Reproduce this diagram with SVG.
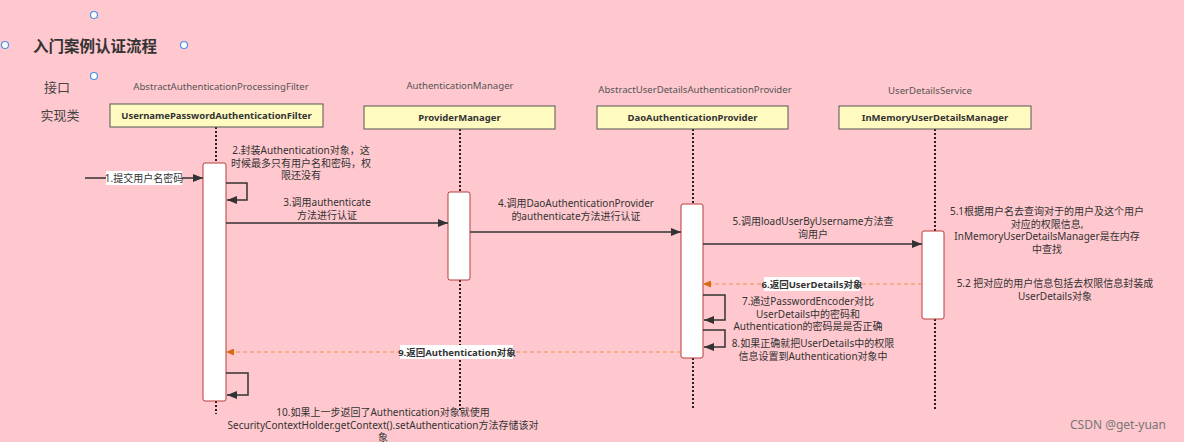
<svg xmlns="http://www.w3.org/2000/svg" width="1184" height="442" viewBox="0 0 1184 442">
<defs>
<style>
.bg{fill:#FFC8CE}
.t{font-family:"Noto Sans","Noto Sans CJK SC",sans-serif;fill:#333;font-size:10px;text-anchor:middle}
.top{font-family:"Noto Sans",sans-serif;fill:#555;font-size:9.6px;text-anchor:middle}
.box{fill:#FFFAC0;stroke:#555;stroke-width:1}
.bl{font-family:"Noto Sans","Noto Sans CJK SC",sans-serif;font-weight:bold;fill:#333;font-size:9.5px;text-anchor:middle}
.life{stroke:#222;stroke-width:2;stroke-dasharray:2 2;fill:none}
.act{fill:#fff;stroke:#B83A3A;stroke-width:1}
.msg{stroke:#333;stroke-width:1.5;fill:none;marker-end:url(#ah)}
.ret{stroke:#E8914A;stroke-width:1.2;stroke-dasharray:4 3;fill:none;marker-end:url(#ao)}
.lbg{fill:#fff}
.h{fill:#fff;stroke:#4A90E2;stroke-width:1.2}
</style>
<marker id="ah" markerWidth="10" markerHeight="8" refX="10" refY="4" orient="auto" markerUnits="userSpaceOnUse"><path d="M0,0 L10,4 L0,8 z" fill="#333"/></marker>
<marker id="ao" markerWidth="8" markerHeight="7" refX="8" refY="3.5" orient="auto" markerUnits="userSpaceOnUse"><path d="M0,0 L8,3.5 L0,7 z" fill="#D86A10"/></marker>
</defs>
<rect class="bg" x="0" y="0" width="1184" height="442"/>

<g id="title">
<text x="33" y="52" style="font-family:'Noto Sans CJK SC',sans-serif;font-weight:bold;font-size:15.5px;fill:#333">入门案例认证流程</text>
<circle class="h" cx="94" cy="15" r="3.5"/>
<circle class="h" cx="5" cy="45" r="3.5"/>
<circle class="h" cx="184" cy="45" r="3.5"/>
<circle class="h" cx="94" cy="76" r="3.5"/>
</g>
<g id="row-labels">
<text x="57" y="92" style="font-family:'Noto Sans CJK SC',sans-serif;font-size:13px;fill:#444;text-anchor:middle">接口</text>
<text x="60" y="120" style="font-family:'Noto Sans CJK SC',sans-serif;font-size:13px;fill:#444;text-anchor:middle">实现类</text>
</g>

<g id="lifelines">
<line class="life" x1="216" y1="127" x2="216" y2="163"/>
<line class="life" x1="216" y1="401" x2="216" y2="414"/>
<line class="life" x1="460" y1="129" x2="460" y2="192"/>
<line class="life" x1="460" y1="280" x2="460" y2="410"/>
<line class="life" x1="693" y1="129" x2="693" y2="204"/>
<line class="life" x1="693" y1="358" x2="693" y2="410"/>
<line class="life" x1="935" y1="129" x2="935" y2="231"/>
<line class="life" x1="935" y1="319" x2="935" y2="410"/>
</g>

<g id="node-filter">
<text class="top" x="221" y="90">AbstractAuthenticationProcessingFilter</text>
<rect class="box" x="110" y="104" width="213" height="23"/>
<text class="bl" x="216.5" y="119">UsernamePasswordAuthenticationFilter</text>
<rect class="act" x="203" y="163" width="23" height="238" rx="2"/>
</g>
<g id="node-provider-manager">
<text class="top" x="460" y="89">AuthenticationManager</text>
<rect class="box" x="364" y="106" width="191" height="23"/>
<text class="bl" x="459.5" y="121">ProviderManager</text>
<rect class="act" x="448" y="192" width="22" height="88" rx="2"/>
</g>
<g id="node-dao">
<text class="top" x="695" y="93">AbstractUserDetailsAuthenticationProvider</text>
<rect class="box" x="597" y="106" width="191" height="23"/>
<text class="bl" x="692.5" y="121">DaoAuthenticationProvider</text>
<rect class="act" x="681" y="204" width="22" height="154" rx="2"/>
</g>
<g id="node-inmemory">
<text class="top" x="930" y="94">UserDetailsService</text>
<rect class="box" x="839" y="106" width="192" height="23"/>
<text class="bl" x="935" y="121">InMemoryUserDetailsManager</text>
<rect class="act" x="922" y="231" width="22" height="88" rx="2"/>
</g>

<g id="connectors">
<line class="msg" x1="85" y1="178" x2="203" y2="178"/>
<path class="msg" d="M226,183 H247 V200 H227"/>
<line class="msg" x1="226" y1="223" x2="448" y2="223"/>
<line class="msg" x1="470" y1="232" x2="681" y2="232"/>
<line class="msg" x1="703" y1="244" x2="922" y2="244"/>
<line class="ret" x1="922" y1="284" x2="703" y2="284"/>
<path class="msg" d="M703,295 H725 V320 H704"/>
<path class="msg" d="M703,330 H725 V347 H704"/>
<line class="ret" x1="681" y1="352" x2="226" y2="352"/>
<path class="msg" d="M226,373 H248 V395 H227"/>
</g>

<g id="labels">
<rect class="lbg" x="106" y="171" width="76" height="14"/>
<text class="t" x="144" y="182">1.提交用户名密码</text>
<text class="t" x="301" y="154">2.封装Authentication对象，这</text>
<text class="t" x="301" y="166.5">时候最多只有用户名和密码，权</text>
<text class="t" x="301" y="179">限还没有</text>
<text class="t" x="327" y="206">3.调用authenticate</text>
<text class="t" x="327" y="218.5">方法进行认证</text>
<text class="t" x="576" y="207">4.调用DaoAuthenticationProvider</text>
<text class="t" x="576" y="219.5">的authenticate方法进行认证</text>
<text class="t" x="813" y="225">5.调用loadUserByUsername方法查</text>
<text class="t" x="813" y="237.5">询用户</text>
<text class="t" x="1047" y="215">5.1根据用户名去查询对于的用户及这个用户</text>
<text class="t" x="1047" y="227.5">对应的权限信息,</text>
<text class="t" x="1047" y="240">InMemoryUserDetailsManager是在内存</text>
<text class="t" x="1047" y="252.5">中查找</text>
<rect class="lbg" x="764" y="277" width="96" height="14"/>
<text class="bl" x="812" y="288">6.返回UserDetails对象</text>
<text class="t" x="1055" y="287">5.2 把对应的用户信息包括去权限信息封装成</text>
<text class="t" x="1055" y="299.5">UserDetails对象</text>
<text class="t" x="808" y="305">7.通过PasswordEncoder对比</text>
<text class="t" x="808" y="317.5">UserDetails中的密码和</text>
<text class="t" x="808" y="330">Authentication的密码是是否正确</text>
<text class="t" x="813" y="347">8.如果正确就把UserDetails中的权限</text>
<text class="t" x="813" y="359.5">信息设置到Authentication对象中</text>
<rect class="lbg" x="400" y="345" width="113" height="14"/>
<text class="bl" x="457" y="356">9.返回Authentication对象</text>
<text class="t" x="383" y="416">10.如果上一步返回了Authentication对象就使用</text>
<text class="t" x="383" y="428.5">SecurityContextHolder.getContext().setAuthentication方法存储该对</text>
<text class="t" x="383" y="441">象</text>
</g>
<text x="1118" y="429" style="font-family:'Noto Sans',sans-serif;font-size:12px;fill:#777;text-anchor:middle">CSDN @get-yuan</text>
</svg>
